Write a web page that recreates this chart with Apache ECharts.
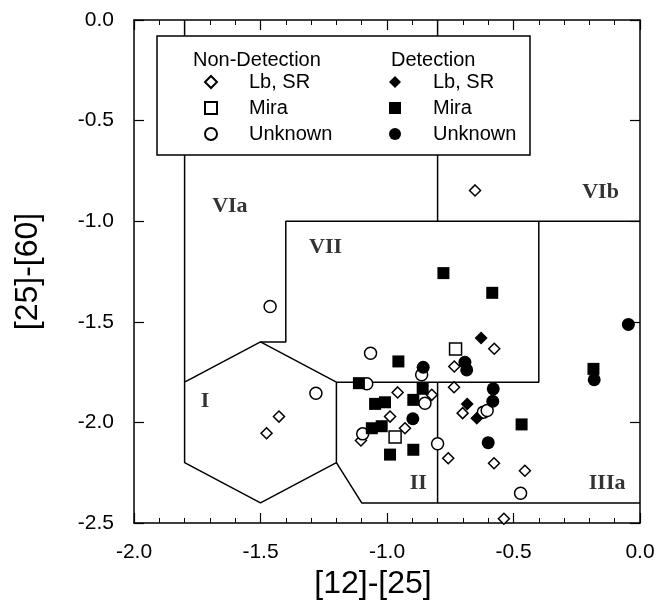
<!DOCTYPE html>
<html>
<head>
<meta charset="utf-8">
<script src="https://cdn.jsdelivr.net/npm/echarts@6/dist/echarts.min.js"></script>
<style>
  html, body { margin: 0; padding: 0; background: #fff; }
  #chart { width: 661px; height: 611px; }
</style>
</head>
<body>
<div id="chart"></div>
<script>
// ---- tick labels / axes ----
const xTicks = [-2.0, -1.5, -1.0, -0.5, 0.0];
const yTicks = [-2.5, -2.0, -1.5, -1.0, -0.5, 0.0];
const xTitle = '[12]-[25]';
const yTitle = '[25]-[60]';

// ---- series values [ [12]-[25], [25]-[60] ] ----
const nonDetLbSR = [
  [-0.652, -0.847], [-0.576, -1.634], [-0.734, -1.722], [-0.958, -1.851],
  [-0.735, -1.825], [-0.823, -1.863], [-0.988, -1.971], [-0.929, -2.029],
  [-1.103, -2.090], [-0.758, -2.178], [-0.701, -1.954], [-0.577, -2.203],
  [-0.455, -2.240], [-0.538, -2.479], [-1.427, -1.971], [-1.476, -2.054]
];
const nonDetMira = [
  [-0.729, -1.635], [-0.968, -2.073]
];
const nonDetUnknown = [
  [-1.462, -1.424], [-1.065, -1.656], [-0.863, -1.763], [-1.080, -1.808],
  [-1.281, -1.855], [-0.850, -1.905], [-1.096, -2.057], [-0.800, -2.106],
  [-0.619, -1.949], [-0.604, -1.941], [-0.472, -2.352]
];
const detLbSR = [
  [-0.628, -1.580], [-0.683, -1.908], [-0.645, -1.979]
];
const detMira = [
  [-0.777, -1.258], [-0.584, -1.356], [-0.955, -1.697], [-1.111, -1.805],
  [-0.859, -1.833], [-0.896, -1.888], [-1.047, -1.908], [-1.008, -1.900],
  [-1.060, -2.029], [-1.021, -2.019], [-0.988, -2.160], [-0.896, -2.136],
  [-0.468, -2.010], [-0.184, -1.734]
];
const detUnknown = [
  [-0.857, -1.726], [-0.692, -1.701], [-0.685, -1.739], [-0.898, -1.982],
  [-0.580, -1.833], [-0.582, -1.895], [-0.600, -2.101], [-0.046, -1.513],
  [-0.181, -1.788]
];

// ---- region boundaries (vertices) ----
const boundaryI = [[-1.8, 0], [-1.8, -1.8], [-1.8, -2.2], [-1.5, -2.4], [-1.2, -2.2],
                   [-1.2, -1.8], [-1.5, -1.6], [-1.8, -1.8]];
const boundaryVIIa = [[-1.5, -1.6], [-1.4, -1.6], [-1.4, -1.0], [0, -1.0]];
const boundaryVIIb = [[-0.4, -1.0], [-0.4, -1.8], [-1.2, -1.8]];
const boundaryVI = [[-0.8, 0], [-0.8, -1.0]];
const boundaryII = [[-1.2, -2.2], [-1.1, -2.4], [0, -2.4]];
const boundaryIII = [[-0.8, -1.8], [-0.8, -2.4]];

// ---- region labels ----
const regionLabels = [
  [-1.621, -0.927, 'VIa'], [-1.243, -1.131, 'VII'], [-0.156, -0.855, 'VIb'],
  [-1.719, -1.894, 'I'], [-0.876, -2.301, 'II'], [-0.130, -2.304, 'IIIa']
];

// ---- legend text ----
const legendHeaders = ['Non-Detection', 'Detection'];
const legendNames = { ndLb: 'Lb, SR', ndMira: 'Mira', ndUnk: 'Unknown',
                      dLb: 'Lb, SR', dMira: 'Mira', dUnk: 'Unknown' };

const SANS = 'Liberation Sans, Arial, Helvetica, sans-serif';
const SERIF = 'Liberation Serif, Times New Roman, serif';

const openStyle = { color: '#fff', borderColor: '#000', borderWidth: 1.5, opacity: 1 };
const fillStyle = { color: '#000', borderColor: '#000', borderWidth: 0, opacity: 1 };

function boundary(data) {
  return {
    type: 'line', data: data, symbol: 'none', silent: true, z: 1,
    lineStyle: { color: '#000', width: 1.5 }, animation: false
  };
}

function scatter(id, data, symbol, style, size) {
  return {
    type: 'scatter', name: id, data: data, symbol: symbol, symbolSize: size,
    itemStyle: style, z: 3, animation: false
  };
}

const baseX = {
  type: 'value', min: -2, max: 0, interval: 0.5,
  axisLine: { show: true, onZero: false, lineStyle: { color: '#000', width: 1.5 } },
  axisTick: { show: true, inside: true, length: 10, lineStyle: { color: '#000', width: 1.2 } },
  minorTick: { show: true, splitNumber: 5, length: 5, lineStyle: { color: '#000', width: 1 } },
  splitLine: { show: false }
};
const baseY = {
  type: 'value', min: -2.5, max: 0, interval: 0.5,
  axisLine: { show: true, onZero: false, lineStyle: { color: '#000', width: 1.5 } },
  axisTick: { show: true, inside: true, length: 10, lineStyle: { color: '#000', width: 1.2 } },
  splitLine: { show: false }
};

const chart = echarts.init(document.getElementById('chart'), null, { renderer: 'canvas' });

const legendCommon = {
  orient: 'vertical', itemWidth: 12, itemHeight: 12, itemGap: 6,
  textStyle: { fontFamily: SANS, fontSize: 20, color: '#000', lineHeight: 20, padding: [0, 0, 0, 27] },
  formatter: function (n) { return legendNames[n]; },
  selectedMode: false, z: 60, inactiveColor: '#000'
};

chart.setOption({
  animation: false,
  backgroundColor: '#fff',
  grid: { left: 134, right: 21, top: 20, bottom: 88, containLabel: false },
  xAxis: [
    Object.assign({}, baseX, {
      position: 'bottom',
      name: xTitle, nameLocation: 'middle', nameGap: 37,
      nameTextStyle: { fontFamily: SANS, fontSize: 32, color: '#000', padding: [0, 28, 0, 0] },
      axisLabel: { margin: 19, fontFamily: SANS, fontSize: 21, color: '#000',
        formatter: function (v) { return xTicks.indexOf(v) >= 0 ? v.toFixed(1) : ''; } }
    }),
    Object.assign({}, baseX, { position: 'top', axisLabel: { show: false } })
  ],
  yAxis: [
    Object.assign({}, baseY, {
      position: 'left',
      name: yTitle, nameLocation: 'middle', nameGap: 90, nameRotate: 90,
      nameTextStyle: { fontFamily: SANS, fontSize: 32, color: '#000' },
      axisLabel: { margin: 20, fontFamily: SANS, fontSize: 21, color: '#000',
        formatter: function (v) { return yTicks.indexOf(v) >= 0 ? v.toFixed(1) : ''; } }
    }),
    Object.assign({}, baseY, { position: 'right', axisLabel: { show: false } })
  ],
  legend: [
    Object.assign({}, legendCommon, { left: 199, top: 67, data: ['ndLb', 'ndMira', 'ndUnk'] }),
    Object.assign({}, legendCommon, { left: 384, top: 67, data: ['dLb', 'dMira', 'dUnk'] })
  ],
  graphic: [
    { type: 'rect', z: 50, shape: { x: 157, y: 36, width: 373, height: 119 },
      style: { fill: '#fff', stroke: '#000', lineWidth: 1.5 } },
    { type: 'text', z: 51, x: 193, y: 60,
      style: { text: legendHeaders[0], font: '20px ' + SANS, fill: '#000', textVerticalAlign: 'middle' } },
    { type: 'text', z: 51, x: 391, y: 60,
      style: { text: legendHeaders[1], font: '20px ' + SANS, fill: '#000', textVerticalAlign: 'middle' } }
  ],
  series: [
    boundary(boundaryI), boundary(boundaryVIIa), boundary(boundaryVIIb),
    boundary(boundaryVI), boundary(boundaryII), boundary(boundaryIII),
    {
      type: 'scatter', data: regionLabels, symbolSize: 0, silent: true, z: 2,
      label: { show: true, position: 'inside', fontFamily: SERIF, fontSize: 22, fontWeight: 'bold', color: '#000',
        formatter: function (p) { return p.data[2]; } }
    },
    scatter('ndLb', nonDetLbSR, 'diamond', openStyle, 11),
    scatter('ndMira', nonDetMira, 'rect', openStyle, 12),
    scatter('ndUnk', nonDetUnknown, 'circle', openStyle, 12),
    scatter('dLb', detLbSR, 'diamond', fillStyle, 13),
    scatter('dMira', detMira, 'rect', fillStyle, 12),
    scatter('dUnk', detUnknown, 'circle', fillStyle, 13)
  ]
});
</script>
</body>
</html>
